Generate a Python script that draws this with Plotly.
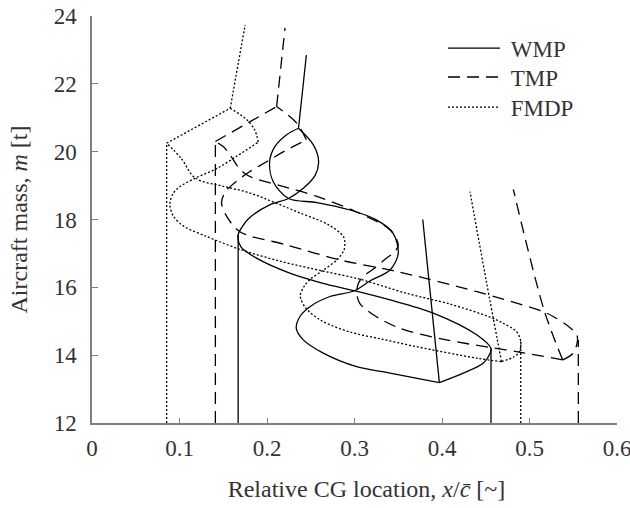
import plotly.graph_objects as go

# ---------------- data (x = relative CG location, m = aircraft mass [t]) -------------
# WMP (solid)
wmp_fwd_x = [0.397, 0.3406, 0.3025, 0.2643, 0.2415, 0.2335, 0.2377, 0.249, 0.272, 0.300,
             0.3185, 0.3406, 0.350, 0.344, 0.325, 0.295, 0.257, 0.2245,
             0.207, 0.203, 0.209, 0.2225, 0.236]
wmp_fwd_m = [13.19, 13.47, 13.66, 14.06, 14.45, 14.79, 15.14, 15.43, 15.73, 15.90,
             16.20, 16.51, 17.00, 17.60, 17.99, 18.28, 18.50, 18.62,
             19.12, 19.71, 20.15, 20.50, 20.69]
wmp_aft_x = [0.397, 0.4243, 0.447, 0.455, 0.456, 0.4396, 0.390, 0.3406, 0.300,
             0.264, 0.226, 0.188, 0.170, 0.167, 0.172, 0.180, 0.203, 0.2245,
             0.2415, 0.255, 0.259, 0.253, 0.236]
wmp_aft_m = [13.19, 13.47, 13.76, 14.06, 14.20, 14.60, 15.24, 15.63, 15.90,
             16.12, 16.42, 16.86, 17.20, 17.55, 17.80, 18.05, 18.43, 18.62,
             18.92, 19.30, 19.71, 20.20, 20.69]
wmp_fuel0_x = [0.397, 0.378]
wmp_fuel0_m = [13.19, 18.00]
wmp_fuel1_x = [0.236, 0.245]
wmp_fuel1_m = [20.69, 22.85]
wmp_fwd_lim_x = [0.167, 0.167]
wmp_fwd_lim_m = [12.0, 17.55]
wmp_aft_lim_x = [0.456, 0.456]
wmp_aft_lim_m = [12.0, 14.20]

# TMP (dashed)
tmp_fwd_x = [0.538, 0.493, 0.455, 0.405, 0.352, 0.3215, 0.306, 0.3025, 0.3045, 0.310,
             0.322, 0.336, 0.346, 0.350, 0.341, 0.300, 0.257, 0.215, 0.185, 0.175,
             0.167, 0.158, 0.150, 0.141]
tmp_fwd_m = [13.86, 14.07, 14.23, 14.45, 14.79, 15.19, 15.53, 15.83, 16.12, 16.32,
             16.55, 16.85, 17.05, 17.25, 17.69, 18.25, 18.68, 19.00, 19.22, 19.35,
             19.55, 19.90, 20.15, 20.30]
tmp_aft_x = [0.538, 0.550, 0.5547, 0.554, 0.5425, 0.527, 0.516, 0.440, 0.348, 0.283,
             0.2225, 0.169, 0.154, 0.148, 0.152, 0.158, 0.167, 0.175, 0.180, 0.200,
             0.219, 0.245]
tmp_aft_m = [13.86, 14.06, 14.40, 14.60, 14.89, 15.14, 15.28, 15.87, 16.47, 16.81,
             17.25, 17.64, 18.09, 18.50, 18.80, 18.97, 19.17, 19.32, 19.41, 19.71,
             20.00, 20.35]
tmp_top_l_x = [0.141, 0.211]
tmp_top_l_m = [20.30, 21.33]
tmp_top_r_x = [0.245, 0.234, 0.211]
tmp_top_r_m = [20.35, 20.84, 21.33]
tmp_fuel0_x = [0.538, 0.517, 0.4815]
tmp_fuel0_m = [13.86, 15.30, 18.89]
tmp_fuel1_x = [0.211, 0.2206]
tmp_fuel1_m = [21.33, 23.65]
tmp_fwd_lim_x = [0.141, 0.141]
tmp_fwd_lim_m = [12.0, 20.30]
tmp_aft_lim_x = [0.5558, 0.5558]
tmp_aft_lim_m = [12.0, 14.45]

# FMDP (dotted)
fmdp_fwd_x = [0.468, 0.440, 0.371, 0.330, 0.295, 0.262, 0.244, 0.238, 0.243, 0.250,
              0.264, 0.280, 0.288, 0.289, 0.2872, 0.270, 0.238, 0.1806, 0.150, 0.118,
              0.102, 0.0853]
fmdp_fwd_m = [13.81, 13.91, 14.25, 14.48, 14.68, 15.02, 15.40, 15.75, 16.05, 16.25,
              16.50, 16.81, 17.10, 17.30, 17.50, 17.85, 18.19, 18.78, 18.98, 19.22,
              19.80, 20.25]
fmdp_aft_x = [0.468, 0.4815, 0.4884, 0.490, 0.4853, 0.470, 0.455, 0.410, 0.360, 0.306,
              0.264, 0.215, 0.169, 0.131, 0.105, 0.093, 0.089, 0.093, 0.1006, 0.118,
              0.1425, 0.165, 0.190]
fmdp_aft_m = [13.81, 13.94, 14.10, 14.40, 14.69, 14.94, 15.12, 15.50, 15.82, 16.24,
              16.48, 16.77, 17.12, 17.50, 17.80, 18.10, 18.45, 18.78, 18.97, 19.22,
              19.50, 19.86, 20.28]
fmdp_top_l_x = [0.0853, 0.158]
fmdp_top_l_m = [20.25, 21.28]
fmdp_top_r_x = [0.190, 0.186, 0.177, 0.158]
fmdp_top_r_m = [20.28, 20.64, 20.94, 21.28]
fmdp_fuel0_x = [0.468, 0.4505, 0.432]
fmdp_fuel0_m = [13.81, 16.20, 18.82]
fmdp_fuel1_x = [0.158, 0.175]
fmdp_fuel1_m = [21.28, 23.74]
fmdp_fwd_lim_x = [0.0853, 0.0853]
fmdp_fwd_lim_m = [12.0, 20.25]
fmdp_aft_lim_x = [0.490, 0.490]
fmdp_aft_lim_m = [12.0, 14.40]

x_tick_vals = [0, 0.1, 0.2, 0.3, 0.4, 0.5, 0.6]
x_tick_text = ["0", "0.1", "0.2", "0.3", "0.4", "0.5", "0.6"]
y_tick_vals = [12, 14, 16, 18, 20, 22, 24]

# ---------------- figure -------------
FONT = "Liberation Serif, Times New Roman, serif"
TXT = "#333333"
AX = "#808080"
NB = "\u00a0"
ZW = "\u200b"

series = [
    ("WMP", "solid", "legend", [
        (wmp_fwd_x, wmp_fwd_m, "spline"), (wmp_aft_x, wmp_aft_m, "spline"),
        (wmp_fuel0_x, wmp_fuel0_m, "linear"), (wmp_fuel1_x, wmp_fuel1_m, "linear"),
        (wmp_fwd_lim_x, wmp_fwd_lim_m, "linear"), (wmp_aft_lim_x, wmp_aft_lim_m, "linear")]),
    ("TMP", "12px,7px", "legend2", [
        (tmp_fwd_x, tmp_fwd_m, "spline"), (tmp_aft_x, tmp_aft_m, "spline"),
        (tmp_top_l_x, tmp_top_l_m, "linear"), (tmp_top_r_x, tmp_top_r_m, "spline"),
        (tmp_fuel0_x, tmp_fuel0_m, "spline"), (tmp_fuel1_x, tmp_fuel1_m, "linear"),
        (tmp_fwd_lim_x, tmp_fwd_lim_m, "linear"), (tmp_aft_lim_x, tmp_aft_lim_m, "linear")]),
    ("FMDP", "2px,2px", "legend3", [
        (fmdp_fwd_x, fmdp_fwd_m, "spline"), (fmdp_aft_x, fmdp_aft_m, "spline"),
        (fmdp_top_l_x, fmdp_top_l_m, "linear"), (fmdp_top_r_x, fmdp_top_r_m, "spline"),
        (fmdp_fuel0_x, fmdp_fuel0_m, "spline"), (fmdp_fuel1_x, fmdp_fuel1_m, "linear"),
        (fmdp_fwd_lim_x, fmdp_fwd_lim_m, "linear"), (fmdp_aft_lim_x, fmdp_aft_lim_m, "linear")]),
]

fig = go.Figure()
for name, dash, leg, segs in series:
    for i, (xs, ms, shape) in enumerate(segs):
        line = dict(color="black", width=1.3, dash=dash, shape=shape)
        if shape == "spline":
            line["smoothing"] = 0.9
        fig.add_trace(go.Scatter(
            x=xs, y=ms, mode="lines", name=NB + name, legendgroup=name,
            legend=leg, showlegend=(i == 0), line=line, hoverinfo="skip"))


def legend_box(ypos):
    return dict(x=0.6686, y=ypos, xanchor="left", yanchor="middle",
                bgcolor="rgba(0,0,0,0)", borderwidth=0,
                font=dict(family=FONT, size=23, color=TXT),
                itemwidth=52, tracegroupgap=0)


fig.update_layout(
    width=630, height=508,
    margin=dict(l=92, r=13, t=16, b=85),
    paper_bgcolor="white", plot_bgcolor="white",
    font=dict(family=FONT, size=23, color=TXT),
    showlegend=True,
    legend=legend_box(0.921),
    legend2=legend_box(0.850),
    legend3=legend_box(0.776),
    xaxis=dict(range=[0, 0.6], tickvals=x_tick_vals, ticktext=x_tick_text,
               showline=True, linecolor=AX, linewidth=1.5, ticks="inside",
               ticklen=5, tickcolor=AX, tickwidth=1.3, showgrid=False, zeroline=False,
               ticklabelstandoff=4, ticklabeloverflow="allow", automargin=False,
               title=dict(text=ZW + NB * 4 + "Relative CG location, <i>x</i>/<i>c̄</i> [~]",
                          font=dict(family=FONT, size=24, color=TXT), standoff=20)),
    yaxis=dict(range=[12, 24], tickvals=y_tick_vals,
               showline=True, linecolor=AX, linewidth=1.5, ticks="inside",
               ticklen=6, tickcolor=AX, tickwidth=1.3, showgrid=False, zeroline=False,
               ticklabelstandoff=9, ticklabeloverflow="allow", automargin=False,
               title=dict(text="Aircraft mass, <i>m</i> [t]",
                          font=dict(family=FONT, size=24, color=TXT), standoff=19)),
)

fig.write_html("out.html")
